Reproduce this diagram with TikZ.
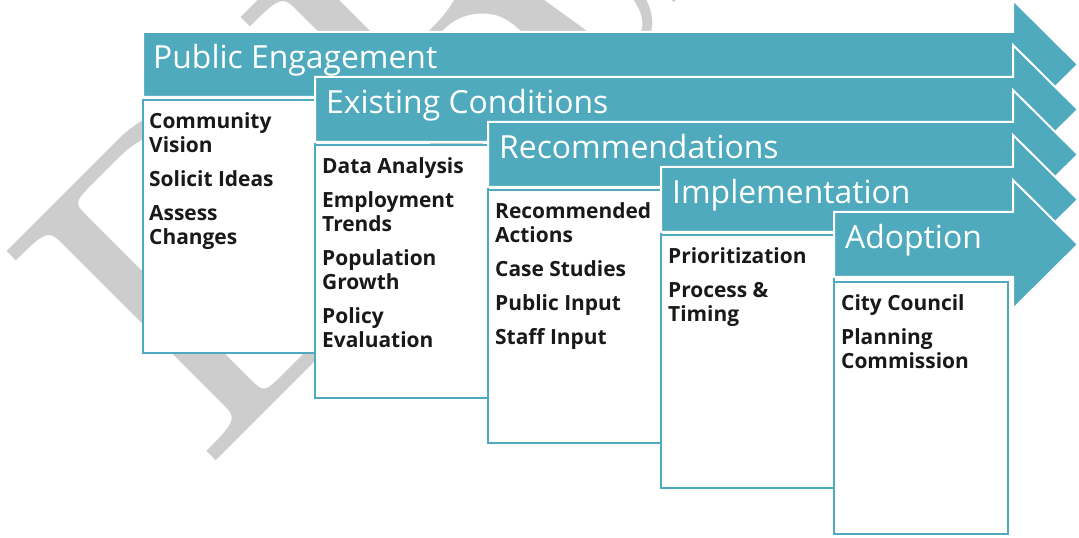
\documentclass[tikz,border=0pt]{standalone}
\usepackage{fontspec}
\setmainfont{Open Sans}
\newfontfamily\markfont{lmroman10-regular}[Extension=.otf]
\definecolor{stageteal}{HTML}{4FAABD}
\definecolor{markgray}{HTML}{CDCDCD}
\tikzset{
  stage/.style={fill=stageteal, draw=white, line width=2bp},
  stagetitle/.style={anchor=base west, inner sep=0, text=white, font=\fontsize{32}{32}\selectfont},
  listbox/.style={fill=white, draw=stageteal, line width=2.5bp},
  listtext/.style={anchor=north west, inner sep=0, align=left, text=black!90, font=\bfseries\fontsize{21}{24}\selectfont}
}
\begin{document}
\begin{tikzpicture}[x=1bp, y=-1bp]
            \useasboundingbox (0,0) rectangle (1079,538);
            \clip (0,0) rectangle (1079,538);
            % watermark
            \node[anchor=base west, inner sep=0, rotate=45, text=markgray, font=\markfont\fontsize{435}{435}\selectfont] (mark) at (205,472) {DRAFT};
            % public engagement
            \filldraw[stage] (143,32) -- (1013,32) -- (1013,0) -- (1078,64.5) -- (1013,129) -- (1013,97) -- (143,97) -- cycle;
            \node[stagetitle] (engage) at (153,69) {Public Engagement};
            \draw[listbox] (143,100) rectangle (315,353);
            \node[listtext] (engagelist) at (149,112) {\strut Community\\Vision\\[10bp]Solicit Ideas\\[10bp]Assess\\Changes};
            % existing conditions
            \filldraw[stage] (315,77) -- (1013,77) -- (1013,45) -- (1078,109.5) -- (1013,174) -- (1013,142) -- (315,142) -- cycle;
            \node[stagetitle] (exist) at (326,114) {Existing Conditions};
            \draw[listbox] (315,145) rectangle (488,398);
            \node[listtext] (existlist) at (322,157) {\strut Data Analysis\\[10bp]Employment\\Trends\\[10bp]Population\\Growth\\[10bp]Policy\\Evaluation};
            % recommendations
            \filldraw[stage] (488,122) -- (1013,122) -- (1013,90) -- (1078,154.5) -- (1013,219) -- (1013,187) -- (488,187) -- cycle;
            \node[stagetitle] (recommend) at (499,159) {Recommendations};
            \draw[listbox] (488,190) rectangle (661,443);
            \node[listtext] (recommendlist) at (495,202) {\strut Recommended\\Actions\\[10bp]Case Studies\\[10bp]Public Input\\[10bp]Staff Input};
            % implementation
            \filldraw[stage] (661,167) -- (1013,167) -- (1013,135) -- (1078,199.5) -- (1013,264) -- (1013,232) -- (661,232) -- cycle;
            \node[stagetitle] (implement) at (672,204) {Implementation};
            \draw[listbox] (661,235) rectangle (834,488);
            \node[listtext] (implementlist) at (668,247) {\strut Prioritization\\[10bp]Process \&\\Timing};
            % adoption
            \filldraw[stage] (834,212) -- (1013,212) -- (1013,180) -- (1078,244.5) -- (1013,309) -- (1013,277) -- (834,277) -- cycle;
            \node[stagetitle] (adopt) at (845,249) {Adoption};
            \draw[listbox] (834,282) rectangle (1008,534);
            \node[listtext] (adoptlist) at (841,294) {\strut City Council\\[10bp]Planning\\Commission};
        \end{tikzpicture}
\end{document}
